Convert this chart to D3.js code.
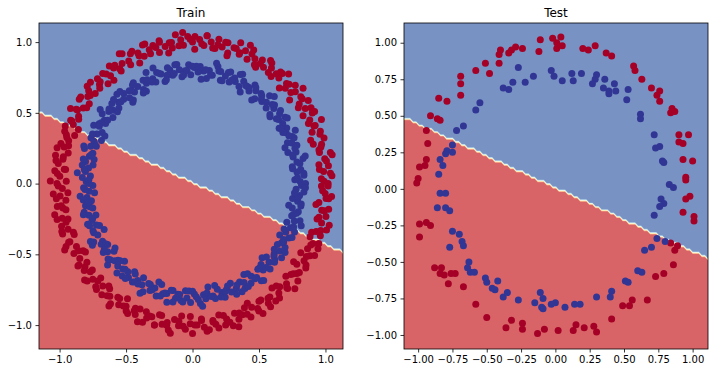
<!DOCTYPE html>
<html>
<head>
<meta charset="utf-8">
<script src="https://cdn.jsdelivr.net/npm/d3@7"></script>
<style>
  body { margin: 0; background: #fff; }
  svg { display: block; font-family: "DejaVu Sans", sans-serif; }
</style>
</head>
<body>
<script>
// class colours (RdYlBu ends) and the filled-contour bands of the decision surface
const classColors = ["#a50026", "#313695"];
const bandLevels = [0.15, 0.3, 0.45, 0.6, 0.75, 0.9];
const bandColors = ["#d96468", "#f8a07d", "#fedaa5", "#ffffd2", "#d9eff5", "#a3c9e1", "#7992c4"];

// fitted linear boundary: y = b0 + b1 * x (blue above)
const boundary = [0.007, -0.435];

// train points as [angle in degrees, radius] read round the rings
const trainOuter = [[0,1.02],[2,0.97],[3,1.05],[5,0.99],[7,1.03],[8,0.96],[10,1.01],[12,1.06],[13,0.98],[15,1.00],[17,0.95],[18,1.04],[20,1.02],[22,0.97],[24,1.01],[25,1.07],[27,0.99],[29,1.03],[30,0.96],[32,1.00],[34,1.05],[35,0.98],[37,1.02],[39,0.94],[40,1.01],[42,1.04],[44,0.97],[45,1.00],[47,1.06],[49,0.99],[50,1.03],[52,0.96],[54,1.01],[55,1.04],[57,0.98],[59,1.02],[60,0.95],[62,1.00],[64,1.05],[65,0.97],[67,1.02],[69,0.99],[70,1.06],[72,1.01],[74,0.96],[75,1.03],[77,0.99],[79,1.04],[80,0.97],[82,1.01],[84,1.05],[85,0.98],[87,1.02],[89,0.95],[90,1.00],[92,1.04],[94,0.98],[95,1.02],[97,1.06],[99,0.97],[100,1.01],[102,0.99],[104,1.04],[105,0.96],[107,1.02],[109,1.00],[110,1.05],[112,0.97],[114,1.01],[115,0.94],[117,1.03],[119,0.99],[120,1.06],[122,1.00],[124,0.96],[125,1.02],[127,1.04],[129,0.98],[130,1.01],[132,0.95],[134,1.03],[135,0.99],[137,1.05],[139,0.97],[140,1.02],[142,1.00],[144,0.96],[145,1.04],[147,0.98],[149,1.01],[150,1.06],[152,0.97],[154,1.02],[155,0.99],[157,1.04],[159,0.95],[160,1.01],[162,0.98],[164,1.03],[165,1.00],[167,0.96],[169,1.05],[170,0.99],[172,1.02],[174,0.97],[175,1.04],[177,1.00],[179,0.95],[180,1.02],[182,0.98],[184,1.05],[185,1.00],[187,0.96],[189,1.03],[190,0.99],[192,1.06],[194,1.01],[195,0.97],[197,1.03],[199,0.99],[200,1.04],[202,0.96],[204,1.01],[205,1.05],[207,0.98],[209,1.02],[210,0.95],[212,1.00],[214,1.04],[215,0.97],[217,1.02],[219,0.99],[220,1.06],[222,1.01],[224,0.96],[225,1.03],[227,0.99],[229,1.04],[230,0.97],[232,1.01],[234,1.05],[235,0.98],[237,1.02],[239,0.95],[240,1.00],[242,1.04],[244,0.98],[245,1.02],[247,1.06],[249,0.97],[250,1.01],[252,0.99],[254,1.04],[255,0.96],[257,1.02],[259,1.00],[260,1.05],[262,0.97],[264,1.01],[265,0.94],[267,1.03],[269,0.99],[270,1.06],[272,1.00],[274,0.96],[275,1.02],[277,1.04],[279,0.98],[280,1.01],[282,0.95],[284,1.03],[285,0.99],[287,1.05],[289,0.97],[290,1.02],[292,1.00],[294,0.96],[295,1.04],[297,0.98],[299,1.01],[300,1.06],[302,0.97],[304,1.02],[305,0.99],[307,1.04],[309,0.95],[310,1.01],[312,0.98],[314,1.03],[315,1.00],[317,0.96],[319,1.05],[320,0.99],[322,1.02],[324,0.97],[325,1.04],[327,1.00],[329,0.95],[330,1.02],[332,0.98],[334,1.05],[335,1.00],[337,0.96],[339,1.03],[340,0.99],[342,1.06],[344,1.01],[345,0.97],[347,1.03],[349,0.99],[350,1.04],[352,0.96],[354,1.01],[355,1.05],[357,0.98],[359,1.02],
  [1,0.99],[4,1.04],[6,0.96],[9,1.02],[11,1.07],[14,0.98],[16,1.01],[19,0.94],[21,1.03],[24,1.00],[26,0.97],[29,1.05],
  [31,1.04],[34,0.96],[36,1.02],[39,1.07],[41,0.98],[44,1.01],[46,0.94],[49,1.03],[51,1.00],[54,0.97],[56,1.05],[59,0.99],
  [61,0.96],[64,1.02],[66,1.07],[69,0.98],[71,1.01],[74,0.94],[76,1.03],[79,1.00],[81,0.97],[84,1.05],[86,0.99],[89,1.04],
  [91,1.02],[94,1.07],[96,0.98],[99,1.01],[101,0.94],[104,1.03],[106,1.00],[109,0.97],[111,1.05],[114,0.99],[116,1.04],[119,0.96],
  [121,1.07],[124,0.98],[126,1.01],[129,0.94],[131,1.03],[134,1.00],[136,0.97],[139,1.05],[141,0.99],[144,1.04],[146,0.96],[149,1.02],
  [151,0.98],[154,1.01],[156,0.94],[159,1.03],[161,1.00],[164,0.97],[166,1.05],[169,0.99],[171,1.04],[174,0.96],[176,1.02],[179,1.07],
  [181,1.01],[184,0.94],[186,1.03],[189,1.00],[191,0.97],[194,1.05],[196,0.99],[199,1.04],[201,0.96],[204,1.02],[206,1.07],[209,0.98],
  [211,0.94],[214,1.03],[216,1.00],[219,0.97],[221,1.05],[224,0.99],[226,1.04],[229,0.96],[231,1.02],[234,1.07],[236,0.98],[239,1.01],
  [241,1.03],[244,1.00],[246,0.97],[249,1.05],[251,0.99],[254,1.04],[256,0.96],[259,1.02],[261,1.07],[264,0.98],[266,1.01],[269,0.94],
  [271,1.00],[274,0.97],[276,1.05],[279,0.99],[281,1.04],[284,0.96],[286,1.02],[289,1.07],[291,0.98],[294,1.01],[296,0.94],[299,1.03],
  [301,0.97],[304,1.05],[306,0.99],[309,1.04],[311,0.96],[314,1.02],[316,1.07],[319,0.98],[321,1.01],[324,0.94],[326,1.03],[329,1.00],
  [331,1.05],[334,0.99],[336,1.04],[339,0.96],[341,1.02],[344,1.07],[346,0.98],[349,1.01],[351,0.94],[354,1.03],[356,1.00],[359,0.97]];

const trainInner = [[1,0.81],[2,0.77],[4,0.84],[6,0.79],[7,0.82],[9,0.76],[11,0.80],[12,0.85],[14,0.78],[16,0.81],[17,0.75],[19,0.83],[21,0.80],[22,0.77],[24,0.82],[26,0.86],[27,0.79],[29,0.81],[31,0.76],[32,0.80],[34,0.84],[36,0.78],[37,0.82],[39,0.75],[41,0.81],[42,0.83],[44,0.77],[46,0.80],[47,0.85],[49,0.79],[51,0.82],[52,0.76],[54,0.81],[56,0.84],[57,0.78],[59,0.80],[61,0.74],[62,0.82],[64,0.86],[66,0.79],[67,0.81],[69,0.77],[71,0.83],[72,0.80],[74,0.76],[76,0.82],[77,0.85],[79,0.78],[81,0.81],[82,0.75],[84,0.80],[86,0.83],[87,0.79],[89,0.82],[91,0.77],[92,0.84],[94,0.80],[96,0.76],[97,0.81],[99,0.85],[101,0.78],[102,0.82],[104,0.79],[106,0.75],[107,0.81],[109,0.83],[111,0.77],[112,0.80],[114,0.86],[116,0.79],[117,0.82],[119,0.76],[121,0.80],[122,0.84],[124,0.78],[126,0.81],[127,0.74],[128,0.73],[129,0.82],[131,0.79],[132,0.85],[134,0.80],[136,0.77],[137,0.83],[139,0.79],[141,0.81],[142,0.76],[144,0.84],[146,0.80],[147,0.78],[149,0.82],[151,0.85],[152,0.77],[154,0.80],[156,0.75],[157,0.83],[159,0.79],[161,0.81],[162,0.86],[164,0.78],[166,0.80],[167,0.76],[169,0.82],[171,0.84],[172,0.79],[174,0.81],[176,0.77],[177,0.83],[179,0.80],[181,0.75],[182,0.82],[184,0.78],[186,0.85],[187,0.80],[189,0.77],[191,0.82],[192,0.79],[194,0.84],[196,0.81],[197,0.76],[199,0.80],[201,0.83],[202,0.78],[204,0.82],[206,0.74],[207,0.80],[209,0.85],[211,0.79],[212,0.81],[214,0.77],[216,0.83],[217,0.80],[219,0.76],[221,0.82],[222,0.86],[224,0.78],[226,0.81],[227,0.75],[229,0.80],[231,0.84],[232,0.79],[234,0.82],[236,0.77],[237,0.83],[239,0.80],[241,0.76],[242,0.81],[244,0.85],[246,0.78],[247,0.82],[249,0.79],[251,0.84],[252,0.75],[254,0.81],[256,0.80],[257,0.86],[259,0.77],[261,0.82],[262,0.79],[264,0.83],[266,0.76],[267,0.81],[269,0.84],[271,0.78],[272,0.80],[274,0.85],[276,0.79],[277,0.82],[279,0.74],[281,0.81],[282,0.83],[284,0.77],[286,0.80],[287,0.84],[289,0.79],[291,0.82],[292,0.76],[294,0.81],[296,0.85],[297,0.78],[299,0.80],[301,0.75],[302,0.83],[304,0.79],[306,0.82],[307,0.86],[309,0.78],[311,0.81],[312,0.77],[314,0.84],[316,0.80],[317,0.76],[319,0.82],[321,0.79],[322,0.85],[324,0.81],[326,0.77],[327,0.83],[329,0.80],[331,0.75],[332,0.82],[334,0.78],[336,0.84],[337,0.80],[339,0.76],[341,0.81],[342,0.85],[344,0.79],[346,0.82],[347,0.77],[349,0.83],[351,0.80],[352,0.76],[354,0.81],[356,0.84],[357,0.78],[359,0.82],
  [0,0.85],[3,0.79],[5,0.84],[8,0.76],[10,0.82],[13,0.87],[15,0.78],[18,0.81],[20,0.74],[23,0.83],[25,0.80],[28,0.77],
  [30,0.77],[33,0.85],[35,0.79],[38,0.84],[40,0.76],[43,0.82],[45,0.87],[48,0.78],[50,0.81],[53,0.74],[55,0.83],[58,0.80],
  [60,0.80],[63,0.77],[65,0.85],[68,0.79],[70,0.84],[73,0.76],[75,0.82],[78,0.87],[80,0.78],[83,0.81],[85,0.74],[88,0.83],
  [90,0.83],[93,0.80],[95,0.77],[98,0.85],[100,0.79],[103,0.84],[105,0.76],[108,0.82],[110,0.87],[113,0.78],[115,0.81],[118,0.74],
  [120,0.74],[123,0.83],[125,0.80],[128,0.77],[130,0.85],[133,0.79],[135,0.84],[138,0.76],[140,0.82],[143,0.87],[145,0.78],[148,0.81],
  [150,0.81],[153,0.74],[155,0.83],[158,0.80],[160,0.77],[163,0.85],[165,0.79],[168,0.84],[170,0.76],[173,0.82],[175,0.87],[178,0.78],
  [180,0.78],[183,0.81],[185,0.74],[188,0.83],[190,0.80],[193,0.77],[195,0.85],[198,0.79],[200,0.84],[203,0.76],[205,0.82],[208,0.87],
  [210,0.87],[213,0.78],[215,0.81],[218,0.74],[220,0.83],[223,0.80],[225,0.77],[228,0.85],[230,0.79],[233,0.84],[235,0.76],[238,0.82],
  [240,0.82],[243,0.87],[245,0.78],[248,0.81],[250,0.74],[253,0.83],[255,0.80],[258,0.77],[260,0.85],[263,0.79],[265,0.84],[268,0.76],
  [270,0.76],[273,0.82],[275,0.87],[278,0.78],[280,0.81],[283,0.74],[285,0.83],[288,0.80],[290,0.77],[293,0.85],[295,0.79],[298,0.84],
  [300,0.84],[303,0.76],[305,0.82],[308,0.87],[310,0.78],[313,0.81],[315,0.74],[318,0.83],[320,0.80],[323,0.77],[325,0.85],[328,0.79],
  [330,0.79],[333,0.84],[335,0.76],[338,0.82],[340,0.87],[343,0.78],[345,0.81],[348,0.74],[350,0.83],[353,0.80],[355,0.77],[358,0.85]];

// test points as [x, y]
const testRed = [[-0.02,1.03],[0.04,1.04],[-0.11,1.02],[-0.12,0.94],[-0.24,0.96],[-0.29,0.97],[-0.32,0.95],[-0.34,0.93],[-0.40,0.95],[-0.41,0.92],[-0.41,0.86],[-0.48,0.79],[-0.51,0.86],[-0.58,0.81],[-0.69,0.77],[-0.69,0.72],[-0.69,0.64],[-0.79,0.60],[-0.85,0.62],[-0.91,0.50],[-0.86,0.48],[-0.84,0.47],[-0.94,0.40],[-0.93,0.31],[-0.94,0.20],[-0.95,0.16],[-0.99,0.15],[-1.00,0.07],[-1.01,0.04],
  [0.01,1.00],[0.01,0.96],[0.05,0.98],[0.20,0.96],[0.24,0.95],[0.29,0.98],[0.37,0.93],[0.41,0.91],[0.57,0.84],[0.58,0.81],[0.63,0.75],[0.70,0.69],[0.76,0.67],[0.74,0.64],[0.76,0.60],[0.85,0.55],[0.84,0.52],[0.87,0.53],[0.90,0.37],[0.97,0.37],[0.90,0.32],[0.93,0.31],[0.93,0.20],[1.00,0.19],[0.95,0.08],[0.95,0.06],
  [0.98,-0.05],[0.95,-0.07],[0.93,-0.16],[1.01,-0.19],[1.01,-0.22],[0.84,-0.37],[0.89,-0.39],[0.87,-0.42],[0.86,-0.52],[0.79,-0.58],[0.73,-0.60],[0.67,-0.76],[0.56,-0.76],[0.54,-0.80],[0.49,-0.80],[0.41,-0.89],[0.28,-0.94],[0.30,-0.98],[0.21,-0.95],[0.15,-0.93],[0.13,-0.97],[0.02,-0.97],
  [-0.99,-0.24],[-0.94,-0.23],[-0.91,-0.25],[-0.99,-0.33],[-0.88,-0.54],[-0.83,-0.54],[-0.84,-0.58],[-0.81,-0.59],[-0.76,-0.58],[-0.73,-0.58],[-0.78,-0.65],[-0.67,-0.67],[-0.58,-0.79],[-0.50,-0.88],[-0.36,-0.95],[-0.32,-0.90],[-0.24,-0.92],[-0.24,-0.96],[-0.13,-0.99],[-0.08,-0.96]];

const testBlue = [[-0.03,0.81],[-0.01,0.77],[-0.16,0.77],[-0.22,0.73],[-0.27,0.83],[-0.31,0.73],[-0.34,0.68],[-0.38,0.69],[-0.55,0.59],[-0.58,0.54],[-0.67,0.43],[-0.72,0.40],[-0.75,0.30],[-0.75,0.25],[-0.79,0.26],[-0.80,0.24],[-0.84,0.20],[-0.82,0.16],[-0.85,0.10],[-0.84,-0.03],
  [0.05,0.74],[0.12,0.79],[0.13,0.74],[0.19,0.79],[0.30,0.78],[0.29,0.75],[0.36,0.75],[0.27,0.72],[0.35,0.69],[0.39,0.67],[0.43,0.72],[0.44,0.67],[0.39,0.65],[0.53,0.68],[0.52,0.61],[0.62,0.51],[0.62,0.48],[0.72,0.37],[0.76,0.29],[0.73,0.28],[0.78,0.19],[0.79,0.18],[0.83,0.03],[0.86,0.01],
  [0.77,-0.07],[0.79,-0.10],[0.76,-0.12],[0.72,-0.18],[0.74,-0.34],[0.80,-0.36],[0.70,-0.40],[0.65,-0.42],[0.60,-0.56],[0.63,-0.57],[0.51,-0.63],[0.53,-0.64],[0.41,-0.70],[0.40,-0.74],[0.30,-0.74],[0.18,-0.79],[0.14,-0.79],[0.07,-0.81],[0.00,-0.78],[-0.03,-0.79],
  [-0.80,-0.03],[-0.86,-0.13],[-0.80,-0.13],[-0.77,-0.15],[-0.75,-0.29],[-0.70,-0.31],[-0.68,-0.36],[-0.67,-0.39],[-0.77,-0.40],[-0.63,-0.50],[-0.64,-0.54],[-0.62,-0.57],[-0.59,-0.57],[-0.51,-0.61],[-0.50,-0.64],[-0.42,-0.63],[-0.46,-0.68],[-0.44,-0.69],[-0.38,-0.74],[-0.35,-0.71],[-0.27,-0.76],[-0.11,-0.71],[-0.09,-0.75],[-0.15,-0.78],[-0.10,-0.81],[-0.09,-0.82]];

const trainTicks = [-1.0, -0.5, 0.0, 0.5, 1.0];
const testTicks = [-1.0, -0.75, -0.5, -0.25, 0.0, 0.25, 0.5, 0.75, 1.0];

function fromPolar(list) {
    return list.map(d => [d[1] * Math.cos(d[0] * Math.PI / 180), d[1] * Math.sin(d[0] * Math.PI / 180)]);
}

var svg = d3.select("body").append("svg")
    .attr("width", 715)
    .attr("height", 373);

function drawPanel(p) {
    var x = d3.scaleLinear().domain(p.xDomain).range([p.left, p.right]);
    var y = d3.scaleLinear().domain(p.yDomain).range([p.bottom, p.top]);

    svg.append("clipPath").attr("id", "clip-" + p.name)
        .append("rect")
        .attr("x", p.left).attr("y", p.top)
        .attr("width", p.right - p.left).attr("height", p.bottom - p.top);

    var g = svg.append("g");
    var area = g.append("g").attr("clip-path", "url(#clip-" + p.name + ")");

    // decision surface, 101 x 101 grid like the helper that made it
    var n = 101;
    var x0 = p.xDomain[0], y0 = p.yDomain[0];
    var dx = (p.xDomain[1] - x0) / (n - 1), dy = (p.yDomain[1] - y0) / (n - 1);
    var values = new Array(n * n);
    for (var j = 0; j < n; j++) {
        for (var i = 0; i < n; i++) {
            var xv = x0 + i * dx, yv = y0 + j * dy;
            values[j * n + i] = yv > boundary[0] + boundary[1] * xv ? 1 : 0;
        }
    }
    var contours = d3.contours().size([n, n]).thresholds(bandLevels)(values);
    var proj = d3.geoTransform({
        point: function (gx, gy) {
            this.stream.point(x(x0 + (gx - 0.5) * dx), y(y0 + (gy - 0.5) * dy));
        }
    });
    var path = d3.geoPath(proj);

    area.append("rect")
        .attr("x", p.left).attr("y", p.top)
        .attr("width", p.right - p.left).attr("height", p.bottom - p.top)
        .attr("fill", bandColors[0]);
    area.selectAll("path.band")
        .data(contours)
        .join("path")
        .attr("class", "band")
        .attr("d", path)
        .attr("fill", (d, i) => bandColors[i + 1]);

    // scatter
    area.selectAll("circle")
        .data(p.points)
        .join("circle")
        .attr("cx", d => x(d[0]))
        .attr("cy", d => y(d[1]))
        .attr("r", 3.5)
        .attr("fill", d => classColors[d[2]]);

    // axes
    var xAxis = d3.axisBottom(x).tickValues(p.ticks).tickFormat(d3.format(p.fmt))
        .tickSize(3.5).tickPadding(3.5).tickSizeOuter(0);
    var yAxis = d3.axisLeft(y).tickValues(p.ticks).tickFormat(d3.format(p.fmt))
        .tickSize(3.5).tickPadding(3.5).tickSizeOuter(0);

    var gx = g.append("g").attr("transform", "translate(0," + p.bottom + ")").call(xAxis);
    var gy = g.append("g").attr("transform", "translate(" + p.left + ",0)").call(yAxis);
    [gx, gy].forEach(a => {
        a.select(".domain").remove();
        a.selectAll("line").attr("stroke", "#000").attr("stroke-width", 0.8);
        a.selectAll("text").attr("fill", "#000")
            .style("font-size", "10px")
            .style("font-family", "'DejaVu Sans', sans-serif");
    });

    g.append("rect")
        .attr("x", p.left).attr("y", p.top)
        .attr("width", p.right - p.left).attr("height", p.bottom - p.top)
        .attr("fill", "none")
        .attr("stroke", "#000")
        .attr("stroke-width", 0.8);

    g.append("text")
        .attr("x", (p.left + p.right) / 2)
        .attr("y", p.top - 6)
        .attr("text-anchor", "middle")
        .style("font-size", "12px")
        .text(p.title);
}

var trainPoints = fromPolar(trainOuter).map(d => [d[0], d[1], 0])
    .concat(fromPolar(trainInner).map(d => [d[0], d[1], 1]));
var testPoints = testRed.map(d => [d[0], d[1], 0])
    .concat(testBlue.map(d => [d[0], d[1], 1]));

drawPanel({
    name: "train", title: "Train",
    left: 39, right: 343, top: 23, bottom: 349,
    xDomain: [-1.155, 1.132], yDomain: [-1.169, 1.135],
    ticks: trainTicks, fmt: ".1f",
    points: trainPoints
});

drawPanel({
    name: "test", title: "Test",
    left: 404, right: 708, top: 23, bottom: 349,
    xDomain: [-1.103, 1.112], yDomain: [-1.096, 1.135],
    ticks: testTicks, fmt: ".2f",
    points: testPoints
});
</script>
</body>
</html>
